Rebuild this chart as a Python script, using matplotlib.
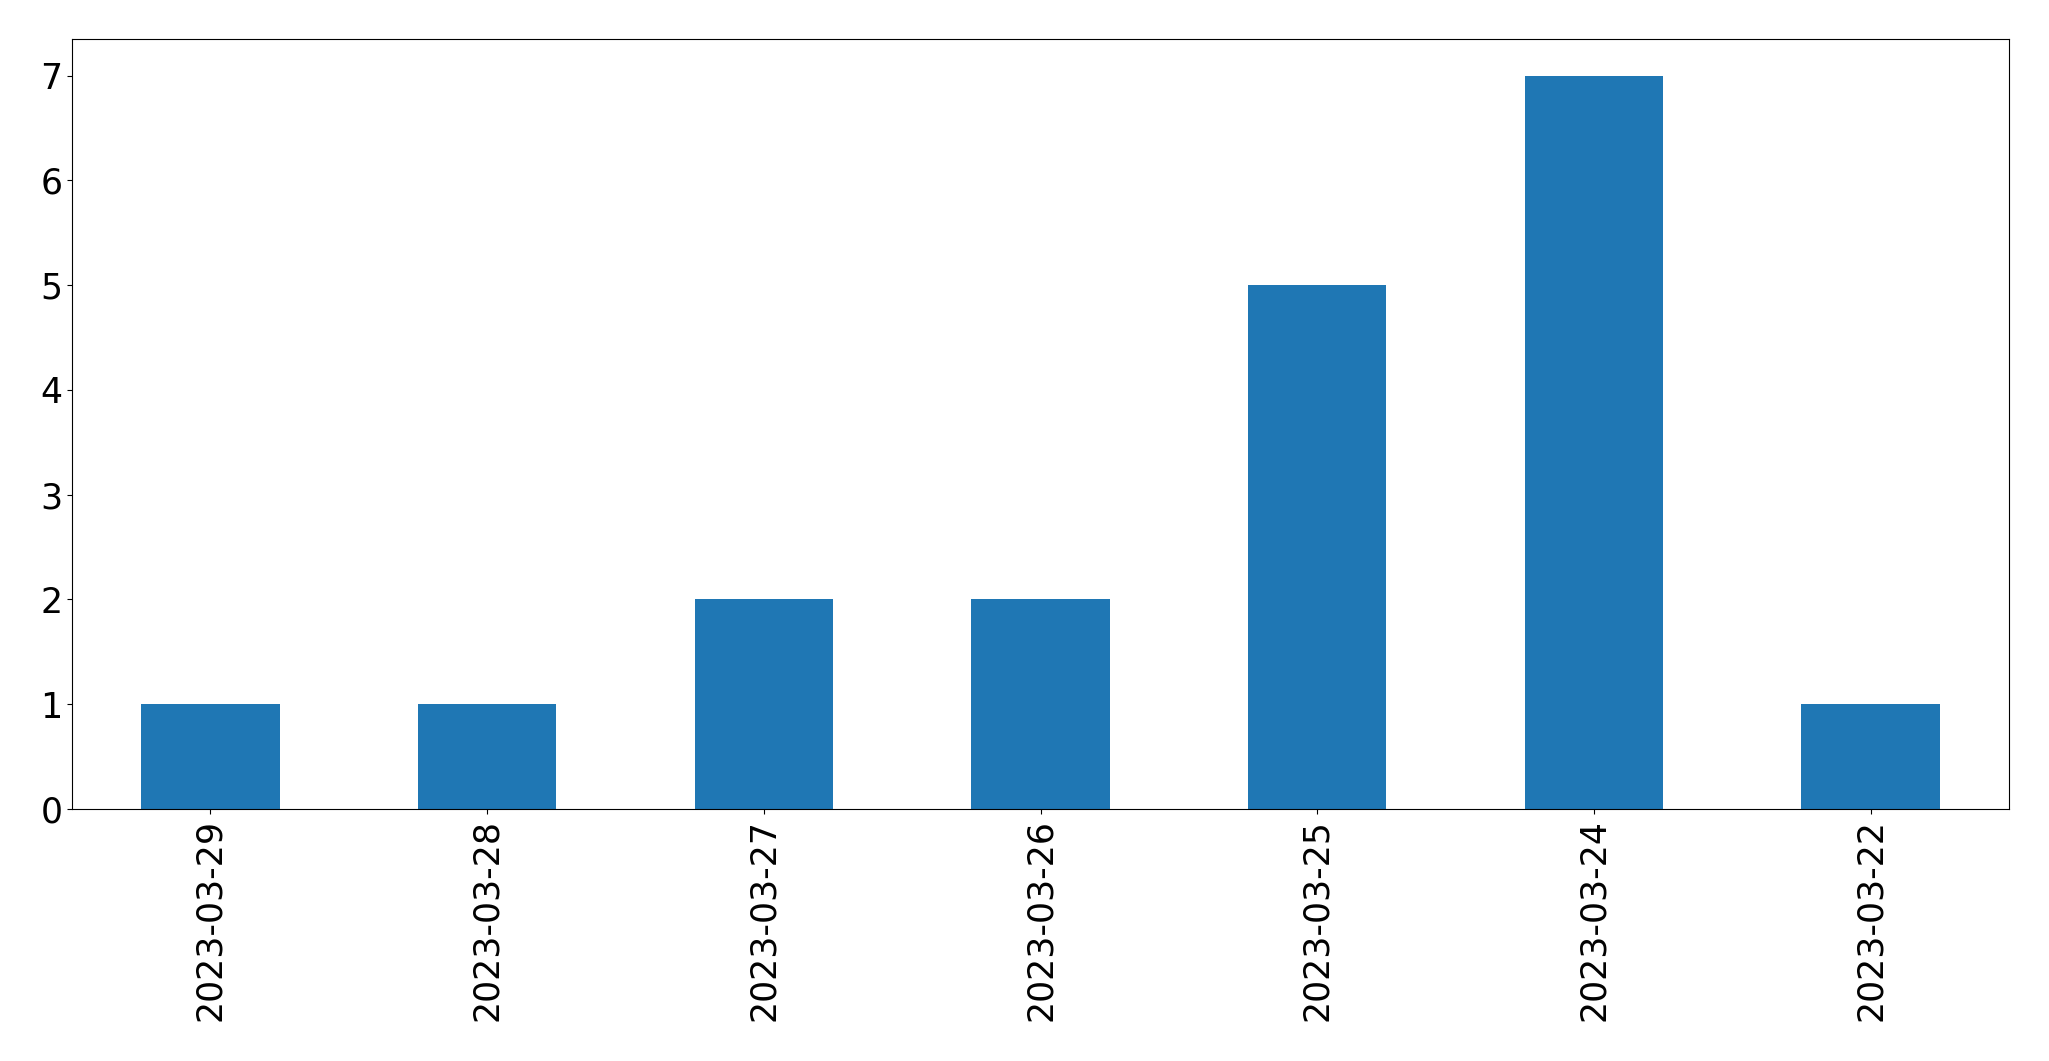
import numpy as np
import matplotlib
matplotlib.use("Agg")
import matplotlib.pyplot as plt

dates = ["2023-03-29", "2023-03-28", "2023-03-27", "2023-03-26",
         "2023-03-25", "2023-03-24", "2023-03-22"]
counts = [1, 1, 2, 2, 5, 7, 1]

fig = plt.figure(figsize=(20.49, 10.61), dpi=100)
ax = fig.add_axes([72/2049, 1 - 809/1061, (2009-72)/2049, (809-39)/1061])

x = np.arange(len(dates))
ax.bar(x, counts, width=0.5, color="#1f77b4")
ax.set_xlim(-0.5, len(dates) - 0.5)
ax.set_xticks(x)
ax.set_xticklabels(dates, rotation=90)
ax.tick_params(axis="both", labelsize=25)

fig.savefig("out.png", dpi=100)
